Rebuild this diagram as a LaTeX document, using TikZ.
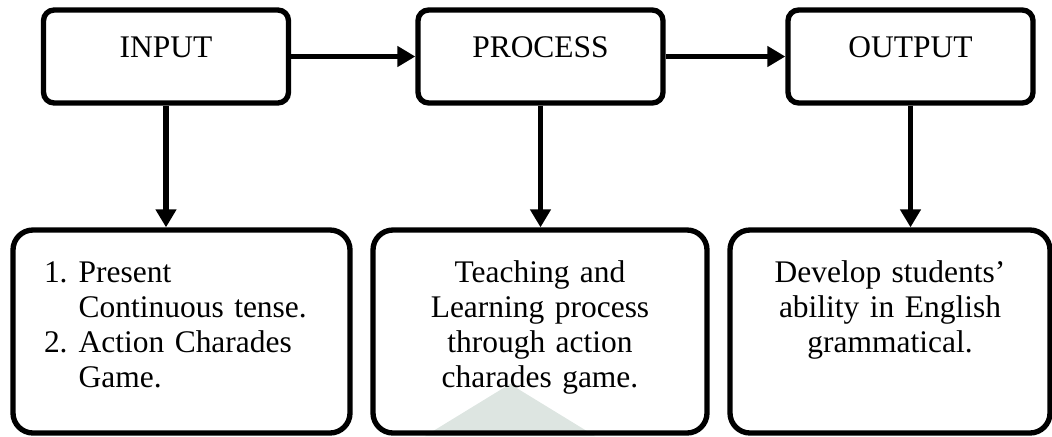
\documentclass[tikz,border=0pt]{standalone}
\usepackage{fontspec}
\setmainfont{Liberation Serif}
\usetikzlibrary{arrows.meta}
\definecolor{wmark}{RGB}{221,229,225}
\begin{document}
\begin{tikzpicture}[x=0.75pt,y=-0.75pt,
  every node/.style={font=\fontsize{23.6}{26.25}\selectfont},
  headbox/.style={draw,line width=4pt,rounded corners=8pt,minimum width=183.75pt,
    inner xsep=0pt,inner ysep=0pt,text height=35.25pt,text depth=34.5pt},
  listbox/.style={draw,line width=4pt,rounded corners=15pt,inner ysep=0pt,
    text height=39pt,text depth=113.25pt},
  link/.style={-{Triangle[length=13.5pt,width=15pt]},line width=4pt}]
\useasboundingbox (0,0) rectangle (1052,436);
% faint mark behind the lower boxes
\fill[wmark] (510,384) -- (425,436) -- (595,436) -- cycle;
% top row: input, process, output
\node[headbox] (inp) at (166,56.5) {INPUT};
\node[headbox] (proc) at (540.5,56.5) {PROCESS};
\node[headbox] (outp) at (910.5,56.5) {OUTPUT};
% bottom row: details
\node[listbox,text width=206.25pt,inner xsep=23.25pt,align=left] (inlist) at (181.5,331.5)
  {\makebox[26pt][l]{1.}Present\\\hspace*{26pt}Continuous tense.\\
   \makebox[26pt][l]{2.}Action Charades\\\hspace*{26pt}Game.};
\node[listbox,text width=250.5pt,inner xsep=0pt,align=center] (proclist) at (540,331.5)
  {Teaching and\\Learning process\\through action\\charades game.};
\node[listbox,text width=240pt,inner xsep=0pt,align=center] (outres) at (890,331.5)
  {Develop students'\\ability in English\\grammatical.};
% connectors
\draw[link] (inp.east) -- (proc.west);
\draw[link] (proc.east) -- (outp.west);
\draw[link] (inp.south) -- (inp.south |- inlist.north);
\draw[link] (proc.south) -- (proc.south |- proclist.north);
\draw[link] (outp.south) -- (outp.south |- outres.north);
\end{tikzpicture}
\end{document}
